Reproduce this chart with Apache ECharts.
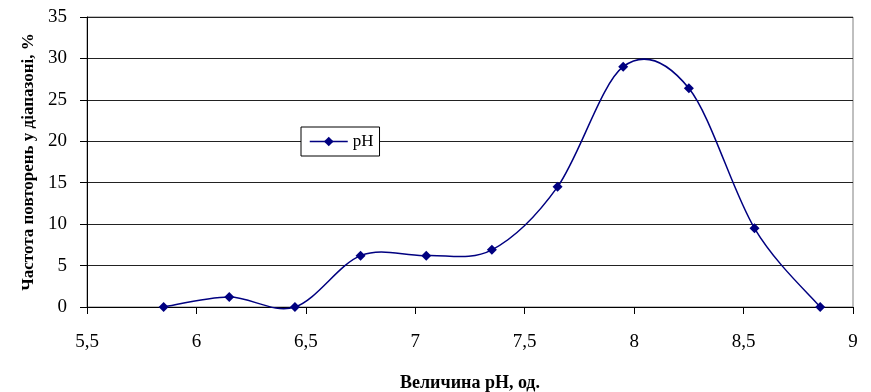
<!DOCTYPE html>
<html>
<head>
<meta charset="utf-8">
<script src="https://cdn.jsdelivr.net/npm/echarts@6/dist/echarts.min.js"></script>
<style>
  html, body { margin: 0; padding: 0; background: #fff; }
  #chart { width: 871px; height: 392px; }
</style>
</head>
<body>
<div id="chart"></div>
<script>
// pH value of each range and how often it occurs (%)
var phValues = [5.85, 6.15, 6.45, 6.75, 7.05, 7.35, 7.65, 7.95, 8.25, 8.55, 8.85];
var frequency = [0, 1.2, 0, 6.2, 6.2, 6.9, 14.5, 29, 26.4, 9.5, 0];
var seriesName = 'pH';
var xTitle = 'Величина pH, од.';
var yTitle = 'Частота повторень у діапазоні, %';

var points = phValues.map(function (x, i) { return [x, frequency[i]]; });
var serif = 'Liberation Serif';
var navy = '#000080';

// Smoothed curve through all points (Catmull-Rom style Bezier, tension 1/6)
function renderCurve(params, api) {
  if (params.dataIndex !== 0) return null;
  var c = points.map(function (p) { return api.coord(p); });
  var n = c.length;
  var d = 'M' + c[0][0] + ' ' + c[0][1];
  for (var i = 0; i < n - 1; i++) {
    var p0 = c[Math.max(i - 1, 0)], p1 = c[i], p2 = c[i + 1], p3 = c[Math.min(i + 2, n - 1)];
    var c1x = p1[0] + (p2[0] - p0[0]) / 6, c1y = p1[1] + (p2[1] - p0[1]) / 6;
    var c2x = p2[0] - (p3[0] - p1[0]) / 6, c2y = p2[1] - (p3[1] - p1[1]) / 6;
    d += ' C' + c1x + ' ' + c1y + ' ' + c2x + ' ' + c2y + ' ' + p2[0] + ' ' + p2[1];
  }
  return {
    type: 'path',
    shape: { pathData: d },
    style: { stroke: navy, lineWidth: 1.5, fill: null }
  };
}

var chart = echarts.init(document.getElementById('chart'), null, { renderer: 'canvas' });
chart.setOption({
  animation: false,
  backgroundColor: '#ffffff',
  grid: {
    left: 87, right: 18, top: 17, bottom: 85,
    outerBoundsMode: 'none', containLabel: false,
    show: true, borderColor: '#808080', borderWidth: 1
  },
  legend: {
    left: 301, top: 127,
    orient: 'horizontal',
    backgroundColor: '#ffffff',
    borderColor: '#000000', borderWidth: 1,
    padding: [6, 6, 6, 8],
    itemWidth: 38, itemHeight: 12, itemGap: 4,
    lineStyle: { opacity: 1, color: navy, width: 1.5 },
    textStyle: { fontFamily: serif, fontSize: 17, color: '#000' },
    data: [seriesName]
  },
  xAxis: {
    type: 'value', min: 5.5, max: 9, interval: 0.5,
    axisLine: { lineStyle: { color: '#000', width: 1 } },
    axisTick: { show: true, inside: false, length: 7, lineStyle: { color: '#000' } },
    splitLine: { show: false },
    axisLabel: {
      fontFamily: serif, fontSize: 19, color: '#000', margin: 26,
      formatter: function (v) { return String(v).replace('.', ','); }
    },
    name: xTitle, nameLocation: 'middle', nameGap: 67,
    nameTextStyle: { fontFamily: serif, fontSize: 18, fontWeight: 'bold', color: '#000' }
  },
  yAxis: {
    type: 'value', min: 0, max: 35, interval: 5,
    axisLine: { show: true, lineStyle: { color: '#000', width: 1 } },
    axisTick: { show: true, inside: false, length: 7, lineStyle: { color: '#000' } },
    splitLine: { show: true, lineStyle: { color: '#222', width: 1 } },
    axisLabel: { fontFamily: serif, fontSize: 19, color: '#000', margin: 20 },
    name: yTitle, nameLocation: 'middle', nameGap: 45, nameRotate: 90,
    nameTextStyle: { fontFamily: serif, fontSize: 17, fontWeight: 'bold', color: '#000' }
  },
  series: [{
    name: 'curve',
    type: 'custom',
    renderItem: renderCurve,
    data: points,
    z: 2,
    silent: true
  }, {
    name: seriesName,
    type: 'line',
    data: points,
    symbol: 'diamond',
    symbolSize: 10,
    z: 3,
    itemStyle: { color: navy },
    lineStyle: { color: navy, width: 1.5, opacity: 0 }
  }]
});
</script>
</body>
</html>
